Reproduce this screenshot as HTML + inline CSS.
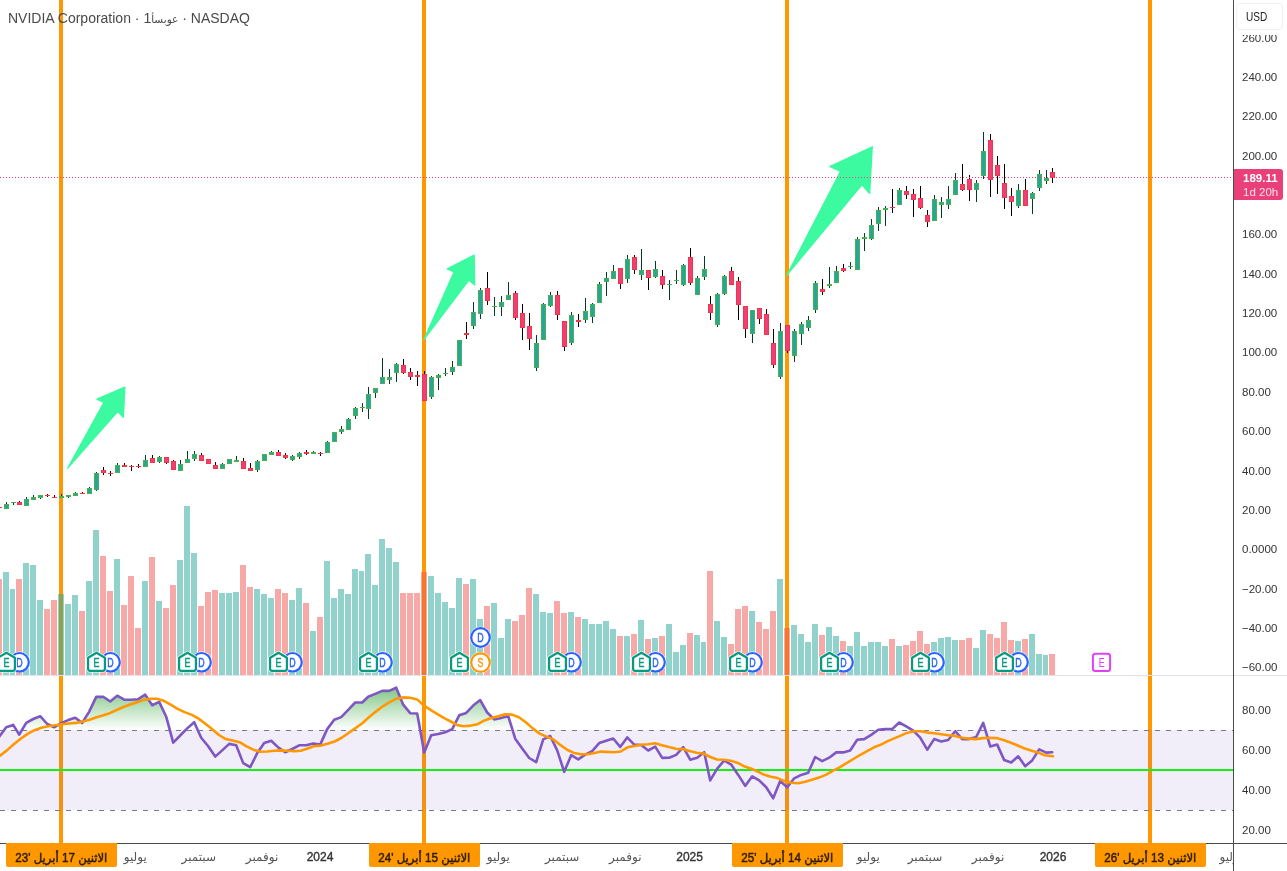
<!DOCTYPE html><html lang="ar"><head><meta charset="utf-8"><title>NVIDIA Corporation</title><style>
html,body{margin:0;padding:0;background:#fff}
body{width:1287px;height:871px;position:relative;overflow:hidden;font-family:"Liberation Sans","DejaVu Sans",sans-serif}
.ic{font-family:"Liberation Sans","DejaVu Sans",sans-serif}
.title{position:absolute;left:8px;top:9px;font-size:14px;line-height:18px;color:#4a4a4a;white-space:nowrap}
.pl{position:absolute;left:1242px;font-size:11.5px;line-height:14px;color:#333;white-space:nowrap}
.usdcover{position:absolute;left:1234px;top:0;width:53px;height:35px;background:#fff}
.usd{position:absolute;left:1236px;top:3px;width:45px;height:25px;border:1px solid #f0f0f0;border-radius:4px;font-size:12px;line-height:27px;color:#222}
.usd span{display:inline-block;transform:scaleX(.84);transform-origin:0 50%;margin-left:8.5px}
.plabel{position:absolute;left:1234px;top:169px;width:49px;height:31px;background:#e9407a;border-radius:0 3px 3px 0;color:#fff;font-size:11.5px}
.plabel div{position:absolute;left:9px;white-space:nowrap;line-height:14px}
.p1{top:2px;font-weight:bold}
.p2{top:16px;opacity:.85}
.tl{position:absolute;top:849px;width:100px;text-align:center;font-size:12px;line-height:16px;color:#555;white-space:nowrap;direction:rtl}
.tl.yr{color:#333;direction:ltr;-webkit-text-stroke:0.35px #333}
.tar{font-size:10.5px}
.dl span{display:inline-block;transform:scaleX(.972);transform-origin:50% 50%;position:relative;top:2.5px}
.tlclip{position:absolute;left:0;top:844px;width:1233px;height:27px;overflow:hidden}
.tlclip .tl{top:5px}
.dl{position:absolute;top:843px;width:111px;height:24px;background:#ff9800;border-radius:0 0 2px 2px;text-align:center;font-size:12px;line-height:24px;color:#2e1c00;-webkit-text-stroke:0.45px #2e1c00;white-space:nowrap;direction:rtl}
</style></head><body><svg width="1287" height="871" viewBox="0 0 1287 871" style="position:absolute;left:0;top:0"><rect x="59" y="0" width="4" height="843" fill="#ff9800"/>
<rect x="422" y="0" width="4" height="843" fill="#ff9800"/>
<rect x="785" y="0" width="4" height="843" fill="#ff9800"/>
<rect x="1148" y="0" width="4" height="843" fill="#ff9800"/>
<g shape-rendering="crispEdges"><rect x="-4" y="579" width="6" height="96" fill="rgba(239,83,80,0.5)"/><rect x="3" y="572" width="6" height="103" fill="rgba(38,166,154,0.5)"/><rect x="10" y="589" width="5" height="86" fill="rgba(38,166,154,0.5)"/><rect x="16" y="579" width="6" height="96" fill="rgba(239,83,80,0.5)"/><rect x="23" y="563" width="6" height="112" fill="rgba(38,166,154,0.5)"/><rect x="30" y="565" width="6" height="110" fill="rgba(38,166,154,0.5)"/><rect x="37" y="600" width="6" height="75" fill="rgba(38,166,154,0.5)"/><rect x="44" y="609" width="6" height="66" fill="rgba(239,83,80,0.5)"/><rect x="51" y="600" width="6" height="75" fill="rgba(239,83,80,0.5)"/><rect x="58" y="594" width="6" height="81" fill="rgba(38,166,154,0.5)"/><rect x="65" y="604" width="6" height="71" fill="rgba(38,166,154,0.5)"/><rect x="72" y="595" width="6" height="80" fill="rgba(38,166,154,0.5)"/><rect x="79" y="611" width="6" height="64" fill="rgba(239,83,80,0.5)"/><rect x="86" y="581" width="6" height="94" fill="rgba(38,166,154,0.5)"/><rect x="93" y="530" width="6" height="145" fill="rgba(38,166,154,0.5)"/><rect x="100" y="556" width="6" height="119" fill="rgba(239,83,80,0.5)"/><rect x="107" y="591" width="6" height="84" fill="rgba(239,83,80,0.5)"/><rect x="114" y="559" width="6" height="116" fill="rgba(38,166,154,0.5)"/><rect x="121" y="605" width="6" height="70" fill="rgba(239,83,80,0.5)"/><rect x="128" y="576" width="6" height="99" fill="rgba(239,83,80,0.5)"/><rect x="135" y="628" width="6" height="47" fill="rgba(239,83,80,0.5)"/><rect x="142" y="581" width="6" height="94" fill="rgba(38,166,154,0.5)"/><rect x="149" y="557" width="6" height="118" fill="rgba(239,83,80,0.5)"/><rect x="156" y="601" width="6" height="74" fill="rgba(38,166,154,0.5)"/><rect x="163" y="608" width="6" height="67" fill="rgba(239,83,80,0.5)"/><rect x="170" y="585" width="6" height="90" fill="rgba(239,83,80,0.5)"/><rect x="177" y="560" width="6" height="115" fill="rgba(38,166,154,0.5)"/><rect x="184" y="506" width="6" height="169" fill="rgba(38,166,154,0.5)"/><rect x="191" y="553" width="6" height="122" fill="rgba(38,166,154,0.5)"/><rect x="198" y="606" width="6" height="69" fill="rgba(239,83,80,0.5)"/><rect x="205" y="592" width="6" height="83" fill="rgba(239,83,80,0.5)"/><rect x="212" y="590" width="6" height="85" fill="rgba(239,83,80,0.5)"/><rect x="219" y="593" width="6" height="82" fill="rgba(38,166,154,0.5)"/><rect x="226" y="593" width="6" height="82" fill="rgba(38,166,154,0.5)"/><rect x="233" y="592" width="6" height="83" fill="rgba(38,166,154,0.5)"/><rect x="240" y="565" width="6" height="110" fill="rgba(239,83,80,0.5)"/><rect x="247" y="587" width="6" height="88" fill="rgba(239,83,80,0.5)"/><rect x="254" y="589" width="6" height="86" fill="rgba(38,166,154,0.5)"/><rect x="261" y="594" width="6" height="81" fill="rgba(38,166,154,0.5)"/><rect x="268" y="598" width="6" height="77" fill="rgba(38,166,154,0.5)"/><rect x="275" y="589" width="6" height="86" fill="rgba(239,83,80,0.5)"/><rect x="282" y="593" width="6" height="82" fill="rgba(239,83,80,0.5)"/><rect x="289" y="600" width="6" height="75" fill="rgba(38,166,154,0.5)"/><rect x="296" y="588" width="6" height="87" fill="rgba(38,166,154,0.5)"/><rect x="303" y="603" width="6" height="72" fill="rgba(239,83,80,0.5)"/><rect x="310" y="631" width="6" height="44" fill="rgba(38,166,154,0.5)"/><rect x="317" y="617" width="6" height="58" fill="rgba(239,83,80,0.5)"/><rect x="324" y="561" width="6" height="114" fill="rgba(38,166,154,0.5)"/><rect x="331" y="598" width="6" height="77" fill="rgba(38,166,154,0.5)"/><rect x="338" y="589" width="6" height="86" fill="rgba(38,166,154,0.5)"/><rect x="345" y="594" width="6" height="81" fill="rgba(38,166,154,0.5)"/><rect x="352" y="569" width="6" height="106" fill="rgba(38,166,154,0.5)"/><rect x="359" y="571" width="5" height="104" fill="rgba(38,166,154,0.5)"/><rect x="365" y="554" width="6" height="121" fill="rgba(38,166,154,0.5)"/><rect x="372" y="585" width="6" height="90" fill="rgba(38,166,154,0.5)"/><rect x="379" y="539" width="6" height="136" fill="rgba(38,166,154,0.5)"/><rect x="386" y="548" width="6" height="127" fill="rgba(38,166,154,0.5)"/><rect x="393" y="562" width="6" height="113" fill="rgba(38,166,154,0.5)"/><rect x="400" y="593" width="6" height="82" fill="rgba(239,83,80,0.5)"/><rect x="407" y="593" width="6" height="82" fill="rgba(239,83,80,0.5)"/><rect x="414" y="593" width="6" height="82" fill="rgba(239,83,80,0.5)"/><rect x="421" y="572" width="6" height="103" fill="rgba(239,83,80,0.5)"/><rect x="428" y="576" width="6" height="99" fill="rgba(38,166,154,0.5)"/><rect x="435" y="593" width="6" height="82" fill="rgba(38,166,154,0.5)"/><rect x="442" y="602" width="6" height="73" fill="rgba(38,166,154,0.5)"/><rect x="449" y="608" width="6" height="67" fill="rgba(38,166,154,0.5)"/><rect x="456" y="578" width="6" height="97" fill="rgba(38,166,154,0.5)"/><rect x="463" y="584" width="6" height="91" fill="rgba(239,83,80,0.5)"/><rect x="470" y="579" width="6" height="96" fill="rgba(38,166,154,0.5)"/><rect x="477" y="619" width="6" height="56" fill="rgba(38,166,154,0.5)"/><rect x="484" y="606" width="6" height="69" fill="rgba(239,83,80,0.5)"/><rect x="491" y="603" width="6" height="72" fill="rgba(38,166,154,0.5)"/><rect x="498" y="638" width="6" height="37" fill="rgba(38,166,154,0.5)"/><rect x="505" y="619" width="6" height="56" fill="rgba(38,166,154,0.5)"/><rect x="512" y="621" width="6" height="54" fill="rgba(239,83,80,0.5)"/><rect x="519" y="615" width="6" height="60" fill="rgba(239,83,80,0.5)"/><rect x="526" y="588" width="6" height="87" fill="rgba(239,83,80,0.5)"/><rect x="533" y="594" width="6" height="81" fill="rgba(38,166,154,0.5)"/><rect x="540" y="612" width="6" height="63" fill="rgba(38,166,154,0.5)"/><rect x="547" y="613" width="6" height="62" fill="rgba(38,166,154,0.5)"/><rect x="554" y="601" width="6" height="74" fill="rgba(239,83,80,0.5)"/><rect x="561" y="613" width="6" height="62" fill="rgba(239,83,80,0.5)"/><rect x="568" y="612" width="6" height="63" fill="rgba(38,166,154,0.5)"/><rect x="575" y="617" width="6" height="58" fill="rgba(239,83,80,0.5)"/><rect x="582" y="619" width="6" height="56" fill="rgba(38,166,154,0.5)"/><rect x="589" y="624" width="6" height="51" fill="rgba(38,166,154,0.5)"/><rect x="596" y="624" width="6" height="51" fill="rgba(38,166,154,0.5)"/><rect x="603" y="621" width="6" height="54" fill="rgba(38,166,154,0.5)"/><rect x="610" y="629" width="6" height="46" fill="rgba(38,166,154,0.5)"/><rect x="617" y="636" width="6" height="39" fill="rgba(239,83,80,0.5)"/><rect x="624" y="636" width="6" height="39" fill="rgba(38,166,154,0.5)"/><rect x="631" y="634" width="6" height="41" fill="rgba(239,83,80,0.5)"/><rect x="638" y="620" width="6" height="55" fill="rgba(38,166,154,0.5)"/><rect x="645" y="639" width="6" height="36" fill="rgba(239,83,80,0.5)"/><rect x="652" y="638" width="6" height="37" fill="rgba(38,166,154,0.5)"/><rect x="659" y="636" width="6" height="39" fill="rgba(239,83,80,0.5)"/><rect x="666" y="624" width="6" height="51" fill="rgba(38,166,154,0.5)"/><rect x="673" y="652" width="6" height="23" fill="rgba(38,166,154,0.5)"/><rect x="680" y="645" width="6" height="30" fill="rgba(38,166,154,0.5)"/><rect x="687" y="633" width="6" height="42" fill="rgba(239,83,80,0.5)"/><rect x="694" y="635" width="6" height="40" fill="rgba(38,166,154,0.5)"/><rect x="701" y="642" width="5" height="33" fill="rgba(38,166,154,0.5)"/><rect x="707" y="571" width="6" height="104" fill="rgba(239,83,80,0.5)"/><rect x="714" y="621" width="6" height="54" fill="rgba(38,166,154,0.5)"/><rect x="721" y="637" width="6" height="38" fill="rgba(38,166,154,0.5)"/><rect x="728" y="644" width="6" height="31" fill="rgba(239,83,80,0.5)"/><rect x="735" y="609" width="6" height="66" fill="rgba(239,83,80,0.5)"/><rect x="742" y="606" width="6" height="69" fill="rgba(239,83,80,0.5)"/><rect x="749" y="611" width="6" height="64" fill="rgba(38,166,154,0.5)"/><rect x="756" y="622" width="6" height="53" fill="rgba(239,83,80,0.5)"/><rect x="763" y="629" width="6" height="46" fill="rgba(239,83,80,0.5)"/><rect x="770" y="611" width="6" height="64" fill="rgba(239,83,80,0.5)"/><rect x="777" y="579" width="6" height="96" fill="rgba(38,166,154,0.5)"/><rect x="784" y="628" width="6" height="47" fill="rgba(239,83,80,0.5)"/><rect x="791" y="625" width="6" height="50" fill="rgba(38,166,154,0.5)"/><rect x="798" y="634" width="6" height="41" fill="rgba(38,166,154,0.5)"/><rect x="805" y="642" width="6" height="33" fill="rgba(38,166,154,0.5)"/><rect x="812" y="624" width="6" height="51" fill="rgba(38,166,154,0.5)"/><rect x="819" y="635" width="6" height="40" fill="rgba(239,83,80,0.5)"/><rect x="826" y="627" width="6" height="48" fill="rgba(38,166,154,0.5)"/><rect x="833" y="636" width="6" height="39" fill="rgba(38,166,154,0.5)"/><rect x="840" y="641" width="6" height="34" fill="rgba(239,83,80,0.5)"/><rect x="847" y="646" width="6" height="29" fill="rgba(38,166,154,0.5)"/><rect x="854" y="632" width="6" height="43" fill="rgba(38,166,154,0.5)"/><rect x="861" y="646" width="6" height="29" fill="rgba(38,166,154,0.5)"/><rect x="868" y="642" width="6" height="33" fill="rgba(38,166,154,0.5)"/><rect x="875" y="642" width="6" height="33" fill="rgba(38,166,154,0.5)"/><rect x="882" y="646" width="6" height="29" fill="rgba(38,166,154,0.5)"/><rect x="889" y="639" width="6" height="36" fill="rgba(239,83,80,0.5)"/><rect x="896" y="646" width="6" height="29" fill="rgba(38,166,154,0.5)"/><rect x="903" y="645" width="6" height="30" fill="rgba(239,83,80,0.5)"/><rect x="910" y="641" width="6" height="34" fill="rgba(239,83,80,0.5)"/><rect x="917" y="631" width="6" height="44" fill="rgba(239,83,80,0.5)"/><rect x="924" y="644" width="6" height="31" fill="rgba(239,83,80,0.5)"/><rect x="931" y="642" width="6" height="33" fill="rgba(38,166,154,0.5)"/><rect x="938" y="638" width="6" height="37" fill="rgba(38,166,154,0.5)"/><rect x="945" y="637" width="6" height="38" fill="rgba(38,166,154,0.5)"/><rect x="952" y="640" width="6" height="35" fill="rgba(38,166,154,0.5)"/><rect x="959" y="640" width="6" height="35" fill="rgba(239,83,80,0.5)"/><rect x="966" y="638" width="6" height="37" fill="rgba(239,83,80,0.5)"/><rect x="973" y="648" width="6" height="27" fill="rgba(38,166,154,0.5)"/><rect x="980" y="630" width="6" height="45" fill="rgba(38,166,154,0.5)"/><rect x="987" y="634" width="6" height="41" fill="rgba(239,83,80,0.5)"/><rect x="994" y="638" width="6" height="37" fill="rgba(239,83,80,0.5)"/><rect x="1001" y="622" width="6" height="53" fill="rgba(239,83,80,0.5)"/><rect x="1008" y="640" width="6" height="35" fill="rgba(239,83,80,0.5)"/><rect x="1015" y="641" width="6" height="34" fill="rgba(38,166,154,0.5)"/><rect x="1022" y="639" width="6" height="36" fill="rgba(239,83,80,0.5)"/><rect x="1029" y="634" width="6" height="41" fill="rgba(38,166,154,0.5)"/><rect x="1036" y="654" width="6" height="21" fill="rgba(38,166,154,0.5)"/><rect x="1043" y="655" width="5" height="20" fill="rgba(38,166,154,0.5)"/><rect x="1049" y="654" width="6" height="21" fill="rgba(239,83,80,0.5)"/></g>
<rect x="0" y="730" width="1233" height="80" fill="rgba(126,87,194,0.1)"/>
<defs><linearGradient id="gg" x1="0" y1="670" x2="0" y2="730" gradientUnits="userSpaceOnUse"><stop offset="0" stop-color="#4caf50" stop-opacity="1"/><stop offset="1" stop-color="#4caf50" stop-opacity="0"/></linearGradient></defs>
<path d="M-0.8,730 L-0.8,730.0 L6.2,727.3 L13.2,724.9 L19.2,730.0 L26.2,722.9 L33.2,719.0 L40.2,716.2 L47.2,724.0 L54.2,727.3 L61.2,723.2 L68.2,720.1 L75.2,717.7 L82.2,722.9 L89.2,711.6 L96.2,696.9 L103.2,696.7 L110.2,701.5 L117.2,695.7 L124.2,699.7 L131.2,699.7 L138.2,699.2 L145.2,694.6 L152.2,705.2 L159.2,701.9 L166.2,716.7 L173.2,730.0 L180.2,730.0 L187.2,728.4 L194.2,722.2 L201.2,730.0 L208.2,730.0 L215.2,730.0 L222.2,730.0 L229.2,730.0 L236.2,730.0 L243.2,730.0 L250.2,730.0 L257.2,730.0 L264.2,730.0 L271.2,730.0 L278.2,730.0 L285.2,730.0 L292.2,730.0 L299.2,730.0 L306.2,730.0 L313.2,730.0 L320.2,730.0 L327.2,729.1 L334.2,719.8 L341.2,717.1 L348.2,709.8 L355.2,702.5 L362.2,702.5 L368.2,696.7 L375.2,693.9 L382.2,690.9 L389.2,690.9 L396.2,687.7 L403.2,704.7 L410.2,713.2 L417.2,713.5 L424.2,730.0 L431.2,730.0 L438.2,730.0 L445.2,730.0 L452.2,729.1 L459.2,715.3 L466.2,712.9 L473.2,705.6 L480.2,700.1 L487.2,712.5 L494.2,719.4 L501.2,718.0 L508.2,716.0 L515.2,730.0 L522.2,730.0 L529.2,730.0 L536.2,730.0 L543.2,730.0 L550.2,730.0 L557.2,730.0 L564.2,730.0 L571.2,730.0 L578.2,730.0 L585.2,730.0 L592.2,730.0 L599.2,730.0 L606.2,730.0 L613.2,730.0 L620.2,730.0 L627.2,730.0 L634.2,730.0 L641.2,730.0 L648.2,730.0 L655.2,730.0 L662.2,730.0 L669.2,730.0 L676.2,730.0 L683.2,730.0 L690.2,730.0 L697.2,730.0 L704.2,730.0 L710.2,730.0 L717.2,730.0 L724.2,730.0 L731.2,730.0 L738.2,730.0 L745.2,730.0 L752.2,730.0 L759.2,730.0 L766.2,730.0 L773.2,730.0 L780.2,730.0 L787.2,730.0 L794.2,730.0 L801.2,730.0 L808.2,730.0 L815.2,730.0 L822.2,730.0 L829.2,730.0 L836.2,730.0 L843.2,730.0 L850.2,730.0 L857.2,730.0 L864.2,730.0 L871.2,730.0 L878.2,729.8 L885.2,729.1 L892.2,729.1 L899.2,722.5 L906.2,726.4 L913.2,730.0 L920.2,730.0 L927.2,730.0 L934.2,730.0 L941.2,730.0 L948.2,730.0 L955.2,730.0 L962.2,730.0 L969.2,730.0 L976.2,730.0 L983.2,722.9 L990.2,730.0 L997.2,730.0 L1004.2,730.0 L1011.2,730.0 L1018.2,730.0 L1025.2,730.0 L1032.2,730.0 L1039.2,730.0 L1046.2,730.0 L1052.2,730.0 L1052.2,730 Z" fill="url(#gg)"/>
<line x1="0" y1="730.5" x2="1233" y2="730.5" stroke="#787b86" stroke-width="1" stroke-dasharray="5 6" shape-rendering="crispEdges"/>
<line x1="0" y1="810.5" x2="1233" y2="810.5" stroke="#787b86" stroke-width="1" stroke-dasharray="5 6" shape-rendering="crispEdges"/>
<rect x="0" y="769" width="1233" height="2" fill="#14f014" shape-rendering="crispEdges"/>
<polyline fill="none" stroke="#7e57c2" stroke-width="2.6" stroke-linejoin="round" stroke-linecap="round" points="-0.8,736.6 6.2,727.3 13.2,724.9 19.2,734.6 26.2,722.9 33.2,719.0 40.2,716.2 47.2,724.0 54.2,727.3 61.2,723.2 68.2,720.1 75.2,717.7 82.2,722.9 89.2,711.6 96.2,696.9 103.2,696.7 110.2,701.5 117.2,695.7 124.2,699.7 131.2,699.7 138.2,699.2 145.2,694.6 152.2,705.2 159.2,701.9 166.2,716.7 173.2,742.6 180.2,735.5 187.2,728.4 194.2,722.2 201.2,737.7 208.2,746.3 215.2,756.6 222.2,750.4 229.2,743.9 236.2,745.2 243.2,763.1 250.2,767.2 257.2,753.2 264.2,743.1 271.2,740.8 278.2,747.4 285.2,752.2 292.2,749.0 299.2,745.3 306.2,745.3 313.2,743.5 320.2,744.6 327.2,729.1 334.2,719.8 341.2,717.1 348.2,709.8 355.2,702.5 362.2,702.5 368.2,696.7 375.2,693.9 382.2,690.9 389.2,690.9 396.2,687.7 403.2,704.7 410.2,713.2 417.2,713.5 424.2,752.5 431.2,735.3 438.2,733.9 445.2,732.2 452.2,729.1 459.2,715.3 466.2,712.9 473.2,705.6 480.2,700.1 487.2,712.5 494.2,719.4 501.2,718.0 508.2,716.0 515.2,738.7 522.2,748.4 529.2,758.0 536.2,762.1 543.2,739.4 550.2,736.0 557.2,750.4 564.2,771.8 571.2,755.2 578.2,759.4 585.2,754.6 592.2,751.1 599.2,743.1 606.2,740.8 613.2,738.5 620.2,746.9 627.2,737.4 634.2,744.6 641.2,745.0 648.2,750.5 655.2,746.6 662.2,757.9 669.2,757.7 676.2,754.9 683.2,747.1 690.2,759.7 697.2,757.7 704.2,752.2 710.2,780.4 717.2,768.7 724.2,760.5 731.2,764.6 738.2,774.9 745.2,785.9 752.2,776.3 759.2,780.4 766.2,787.3 773.2,798.3 780.2,781.1 787.2,787.3 794.2,778.3 801.2,774.9 808.2,772.8 815.2,757.0 822.2,761.1 829.2,757.7 836.2,752.4 843.2,752.4 850.2,750.5 857.2,739.7 864.2,739.1 871.2,734.9 878.2,729.8 885.2,729.1 892.2,729.1 899.2,722.5 906.2,726.4 913.2,730.6 920.2,737.7 927.2,749.7 934.2,739.1 941.2,741.4 948.2,740.0 955.2,731.2 962.2,739.1 969.2,739.1 976.2,737.0 983.2,722.9 990.2,746.4 997.2,744.6 1004.2,760.1 1011.2,762.5 1018.2,756.3 1025.2,766.2 1032.2,760.4 1039.2,749.4 1046.2,752.6 1052.2,752.2"/>
<polyline fill="none" stroke="#ff9800" stroke-width="2.6" stroke-linejoin="round" stroke-linecap="round" points="0.0,755.7 6.9,750.4 13.8,744.2 20.7,738.7 27.6,733.9 34.5,730.2 41.3,727.7 48.2,726.3 55.1,725.3 62.0,724.2 68.9,723.5 75.8,722.9 82.7,721.5 89.6,719.8 96.5,717.3 103.4,715.3 110.3,712.9 117.1,709.8 124.0,706.7 130.9,704.3 137.8,701.9 144.7,699.6 150.5,698.8 156.9,698.7 163.8,700.8 170.7,704.7 177.6,708.8 184.5,712.1 191.3,714.6 198.2,718.4 205.1,723.5 212.0,729.1 218.9,735.0 225.8,739.1 232.7,740.5 239.6,742.2 246.5,746.3 253.4,749.7 260.3,751.8 267.1,751.5 274.0,750.7 280.9,750.4 287.8,750.7 294.7,751.1 300.8,750.7 306.9,748.8 313.8,746.3 320.7,745.6 327.6,743.8 334.5,741.5 341.3,738.0 348.2,733.2 355.1,728.4 362.0,723.5 368.9,717.3 375.8,711.6 382.7,706.3 389.6,702.2 396.5,698.7 403.4,697.4 410.3,697.8 417.1,699.4 424.0,705.6 430.9,710.2 437.8,714.3 444.7,718.4 450.8,721.5 456.9,724.9 463.8,726.3 470.7,725.6 477.6,724.2 484.5,720.4 491.3,718.0 498.2,716.2 505.1,714.3 512.0,714.6 518.9,717.3 525.8,722.2 532.7,728.4 539.6,733.6 546.5,736.6 553.4,739.4 560.3,744.9 567.1,749.7 574.0,752.9 580.9,754.3 587.8,754.3 594.7,752.9 600.8,751.6 606.9,751.9 613.8,752.2 620.7,751.5 627.6,747.3 634.5,746.0 641.3,744.8 648.2,744.3 655.1,743.2 662.0,745.3 668.9,747.1 675.8,748.7 682.7,749.1 689.6,751.1 696.5,752.8 703.4,753.5 710.3,757.0 717.1,759.5 724.0,759.7 730.9,760.8 737.8,762.9 744.7,766.6 750.8,768.4 756.9,771.2 763.8,774.6 770.7,776.7 777.6,778.1 784.5,781.1 791.3,782.7 798.2,783.2 805.1,781.8 812.0,779.7 818.9,777.6 825.8,774.9 832.7,770.8 839.6,767.3 846.5,763.2 853.4,759.0 860.3,754.9 867.1,751.1 874.0,747.3 880.9,744.6 887.8,741.1 894.7,738.1 900.8,735.6 906.9,732.9 913.8,731.2 920.7,731.2 927.6,732.6 934.5,733.3 941.3,734.2 948.2,735.3 955.1,735.9 962.0,737.7 968.9,738.6 975.8,739.1 982.7,738.1 989.6,737.7 996.5,738.1 1003.4,740.0 1010.3,742.5 1017.1,745.3 1024.0,748.3 1030.9,750.5 1037.8,752.4 1044.7,755.3 1053.0,756.3"/>
<g shape-rendering="crispEdges"><rect x="-1" y="507" width="1" height="1" fill="#000000"/><rect x="-3" y="507" width="5" height="1" fill="#f23645"/><rect x="6" y="502" width="1" height="7" fill="#07382f"/><rect x="4" y="504" width="5" height="5" fill="#4caf50"/><rect x="5" y="505" width="3" height="3" fill="#26a69a"/><rect x="13" y="502" width="1" height="3" fill="#07382f"/><rect x="11" y="502" width="5" height="1" fill="#4caf50"/><rect x="19" y="501" width="1" height="4" fill="#000000"/><rect x="17" y="502" width="5" height="3" fill="#f23645"/><rect x="18" y="503" width="3" height="1" fill="#ec407a"/><rect x="26" y="497" width="1" height="9" fill="#07382f"/><rect x="24" y="499" width="5" height="7" fill="#4caf50"/><rect x="25" y="500" width="3" height="5" fill="#26a69a"/><rect x="33" y="495" width="1" height="5" fill="#07382f"/><rect x="31" y="497" width="5" height="3" fill="#4caf50"/><rect x="32" y="498" width="3" height="1" fill="#26a69a"/><rect x="40" y="495" width="1" height="4" fill="#07382f"/><rect x="38" y="495" width="5" height="3" fill="#4caf50"/><rect x="39" y="496" width="3" height="1" fill="#26a69a"/><rect x="47" y="494" width="1" height="3" fill="#000000"/><rect x="45" y="495" width="5" height="1" fill="#f23645"/><rect x="54" y="495" width="1" height="3" fill="#000000"/><rect x="52" y="497" width="5" height="1" fill="#f23645"/><rect x="61" y="494" width="1" height="4" fill="#07382f"/><rect x="59" y="496" width="5" height="2" fill="#4caf50"/><rect x="68" y="495" width="1" height="3" fill="#07382f"/><rect x="66" y="495" width="5" height="2" fill="#4caf50"/><rect x="75" y="492" width="1" height="4" fill="#07382f"/><rect x="73" y="493" width="5" height="3" fill="#4caf50"/><rect x="74" y="494" width="3" height="1" fill="#26a69a"/><rect x="82" y="492" width="1" height="2" fill="#000000"/><rect x="80" y="493" width="5" height="1" fill="#f23645"/><rect x="89" y="487" width="1" height="7" fill="#07382f"/><rect x="87" y="488" width="5" height="6" fill="#4caf50"/><rect x="88" y="489" width="3" height="4" fill="#26a69a"/><rect x="96" y="472" width="1" height="19" fill="#07382f"/><rect x="94" y="473" width="5" height="17" fill="#4caf50"/><rect x="95" y="474" width="3" height="15" fill="#26a69a"/><rect x="103" y="467" width="1" height="8" fill="#000000"/><rect x="101" y="470" width="5" height="3" fill="#f23645"/><rect x="102" y="471" width="3" height="1" fill="#ec407a"/><rect x="110" y="471" width="1" height="5" fill="#000000"/><rect x="108" y="473" width="5" height="1" fill="#f23645"/><rect x="117" y="463" width="1" height="10" fill="#07382f"/><rect x="115" y="465" width="5" height="8" fill="#4caf50"/><rect x="116" y="466" width="3" height="6" fill="#26a69a"/><rect x="124" y="463" width="1" height="4" fill="#000000"/><rect x="122" y="465" width="5" height="2" fill="#f23645"/><rect x="131" y="465" width="1" height="6" fill="#000000"/><rect x="129" y="466" width="5" height="1" fill="#f23645"/><rect x="138" y="464" width="1" height="4" fill="#000000"/><rect x="136" y="466" width="5" height="1" fill="#f23645"/><rect x="145" y="455" width="1" height="12" fill="#07382f"/><rect x="143" y="460" width="5" height="7" fill="#4caf50"/><rect x="144" y="461" width="3" height="5" fill="#26a69a"/><rect x="152" y="455" width="1" height="8" fill="#000000"/><rect x="150" y="458" width="5" height="5" fill="#f23645"/><rect x="151" y="459" width="3" height="3" fill="#ec407a"/><rect x="159" y="456" width="1" height="7" fill="#07382f"/><rect x="157" y="457" width="5" height="5" fill="#4caf50"/><rect x="158" y="458" width="3" height="3" fill="#26a69a"/><rect x="166" y="457" width="1" height="7" fill="#000000"/><rect x="164" y="457" width="5" height="6" fill="#f23645"/><rect x="165" y="458" width="3" height="4" fill="#ec407a"/><rect x="173" y="460" width="1" height="10" fill="#000000"/><rect x="171" y="461" width="5" height="9" fill="#f23645"/><rect x="172" y="462" width="3" height="7" fill="#ec407a"/><rect x="180" y="460" width="1" height="11" fill="#07382f"/><rect x="178" y="464" width="5" height="7" fill="#4caf50"/><rect x="179" y="465" width="3" height="5" fill="#26a69a"/><rect x="187" y="451" width="1" height="12" fill="#07382f"/><rect x="185" y="459" width="5" height="4" fill="#4caf50"/><rect x="186" y="460" width="3" height="2" fill="#26a69a"/><rect x="194" y="451" width="1" height="10" fill="#07382f"/><rect x="192" y="454" width="5" height="5" fill="#4caf50"/><rect x="193" y="455" width="3" height="3" fill="#26a69a"/><rect x="201" y="453" width="1" height="8" fill="#000000"/><rect x="199" y="455" width="5" height="6" fill="#f23645"/><rect x="200" y="456" width="3" height="4" fill="#ec407a"/><rect x="208" y="459" width="1" height="5" fill="#000000"/><rect x="206" y="459" width="5" height="5" fill="#f23645"/><rect x="207" y="460" width="3" height="3" fill="#ec407a"/><rect x="215" y="462" width="1" height="7" fill="#000000"/><rect x="213" y="465" width="5" height="4" fill="#f23645"/><rect x="214" y="466" width="3" height="2" fill="#ec407a"/><rect x="222" y="463" width="1" height="6" fill="#07382f"/><rect x="220" y="464" width="5" height="5" fill="#4caf50"/><rect x="221" y="465" width="3" height="3" fill="#26a69a"/><rect x="229" y="459" width="1" height="5" fill="#07382f"/><rect x="227" y="459" width="5" height="5" fill="#4caf50"/><rect x="228" y="460" width="3" height="3" fill="#26a69a"/><rect x="236" y="456" width="1" height="6" fill="#07382f"/><rect x="234" y="460" width="5" height="2" fill="#4caf50"/><rect x="243" y="458" width="1" height="11" fill="#000000"/><rect x="241" y="461" width="5" height="8" fill="#f23645"/><rect x="242" y="462" width="3" height="6" fill="#ec407a"/><rect x="250" y="463" width="1" height="8" fill="#000000"/><rect x="248" y="468" width="5" height="3" fill="#f23645"/><rect x="249" y="469" width="3" height="1" fill="#ec407a"/><rect x="257" y="460" width="1" height="12" fill="#07382f"/><rect x="255" y="461" width="5" height="9" fill="#4caf50"/><rect x="256" y="462" width="3" height="7" fill="#26a69a"/><rect x="264" y="454" width="1" height="7" fill="#07382f"/><rect x="262" y="454" width="5" height="7" fill="#4caf50"/><rect x="263" y="455" width="3" height="5" fill="#26a69a"/><rect x="271" y="451" width="1" height="4" fill="#07382f"/><rect x="269" y="452" width="5" height="3" fill="#4caf50"/><rect x="270" y="453" width="3" height="1" fill="#26a69a"/><rect x="278" y="450" width="1" height="6" fill="#000000"/><rect x="276" y="452" width="5" height="4" fill="#f23645"/><rect x="277" y="453" width="3" height="2" fill="#ec407a"/><rect x="285" y="453" width="1" height="6" fill="#000000"/><rect x="283" y="455" width="5" height="3" fill="#f23645"/><rect x="284" y="456" width="3" height="1" fill="#ec407a"/><rect x="292" y="455" width="1" height="6" fill="#07382f"/><rect x="290" y="456" width="5" height="4" fill="#4caf50"/><rect x="291" y="457" width="3" height="2" fill="#26a69a"/><rect x="299" y="452" width="1" height="7" fill="#07382f"/><rect x="297" y="453" width="5" height="4" fill="#4caf50"/><rect x="298" y="454" width="3" height="2" fill="#26a69a"/><rect x="306" y="450" width="1" height="5" fill="#000000"/><rect x="304" y="452" width="5" height="2" fill="#f23645"/><rect x="313" y="451" width="1" height="3" fill="#07382f"/><rect x="311" y="452" width="5" height="2" fill="#4caf50"/><rect x="320" y="452" width="1" height="4" fill="#000000"/><rect x="318" y="453" width="5" height="1" fill="#f23645"/><rect x="327" y="441" width="1" height="12" fill="#07382f"/><rect x="325" y="442" width="5" height="11" fill="#4caf50"/><rect x="326" y="443" width="3" height="9" fill="#26a69a"/><rect x="334" y="432" width="1" height="10" fill="#07382f"/><rect x="332" y="432" width="5" height="10" fill="#4caf50"/><rect x="333" y="433" width="3" height="8" fill="#26a69a"/><rect x="341" y="426" width="1" height="8" fill="#07382f"/><rect x="339" y="429" width="5" height="3" fill="#4caf50"/><rect x="340" y="430" width="3" height="1" fill="#26a69a"/><rect x="348" y="418" width="1" height="12" fill="#07382f"/><rect x="346" y="419" width="5" height="11" fill="#4caf50"/><rect x="347" y="420" width="3" height="9" fill="#26a69a"/><rect x="355" y="407" width="1" height="12" fill="#07382f"/><rect x="353" y="408" width="5" height="8" fill="#4caf50"/><rect x="354" y="409" width="3" height="6" fill="#26a69a"/><rect x="362" y="403" width="1" height="9" fill="#07382f"/><rect x="360" y="407" width="5" height="1" fill="#4caf50"/><rect x="368" y="387" width="1" height="32" fill="#07382f"/><rect x="366" y="394" width="5" height="15" fill="#4caf50"/><rect x="367" y="395" width="3" height="13" fill="#26a69a"/><rect x="375" y="388" width="1" height="10" fill="#07382f"/><rect x="373" y="388" width="5" height="5" fill="#4caf50"/><rect x="374" y="389" width="3" height="3" fill="#26a69a"/><rect x="382" y="358" width="1" height="26" fill="#07382f"/><rect x="380" y="377" width="5" height="7" fill="#4caf50"/><rect x="381" y="378" width="3" height="5" fill="#26a69a"/><rect x="389" y="369" width="1" height="15" fill="#07382f"/><rect x="387" y="377" width="5" height="3" fill="#4caf50"/><rect x="388" y="378" width="3" height="1" fill="#26a69a"/><rect x="396" y="363" width="1" height="19" fill="#07382f"/><rect x="394" y="364" width="5" height="9" fill="#4caf50"/><rect x="395" y="365" width="3" height="7" fill="#26a69a"/><rect x="403" y="359" width="1" height="15" fill="#000000"/><rect x="401" y="365" width="5" height="8" fill="#f23645"/><rect x="402" y="366" width="3" height="6" fill="#ec407a"/><rect x="410" y="368" width="1" height="12" fill="#000000"/><rect x="408" y="372" width="5" height="5" fill="#f23645"/><rect x="409" y="373" width="3" height="3" fill="#ec407a"/><rect x="417" y="371" width="1" height="15" fill="#000000"/><rect x="415" y="375" width="5" height="2" fill="#f23645"/><rect x="424" y="371" width="1" height="30" fill="#000000"/><rect x="422" y="374" width="5" height="27" fill="#f23645"/><rect x="423" y="375" width="3" height="25" fill="#ec407a"/><rect x="431" y="376" width="1" height="23" fill="#07382f"/><rect x="429" y="377" width="5" height="20" fill="#4caf50"/><rect x="430" y="378" width="3" height="18" fill="#26a69a"/><rect x="438" y="374" width="1" height="16" fill="#07382f"/><rect x="436" y="375" width="5" height="3" fill="#4caf50"/><rect x="437" y="376" width="3" height="1" fill="#26a69a"/><rect x="445" y="368" width="1" height="8" fill="#07382f"/><rect x="443" y="373" width="5" height="1" fill="#4caf50"/><rect x="452" y="361" width="1" height="14" fill="#07382f"/><rect x="450" y="367" width="5" height="5" fill="#4caf50"/><rect x="451" y="368" width="3" height="3" fill="#26a69a"/><rect x="459" y="340" width="1" height="26" fill="#07382f"/><rect x="457" y="340" width="5" height="26" fill="#4caf50"/><rect x="458" y="341" width="3" height="24" fill="#26a69a"/><rect x="466" y="322" width="1" height="17" fill="#000000"/><rect x="464" y="333" width="5" height="2" fill="#f23645"/><rect x="473" y="302" width="1" height="27" fill="#07382f"/><rect x="471" y="312" width="5" height="14" fill="#4caf50"/><rect x="472" y="313" width="3" height="12" fill="#26a69a"/><rect x="480" y="288" width="1" height="31" fill="#07382f"/><rect x="478" y="290" width="5" height="24" fill="#4caf50"/><rect x="479" y="291" width="3" height="22" fill="#26a69a"/><rect x="487" y="272" width="1" height="33" fill="#000000"/><rect x="485" y="288" width="5" height="13" fill="#f23645"/><rect x="486" y="289" width="3" height="11" fill="#ec407a"/><rect x="494" y="297" width="1" height="19" fill="#07382f"/><rect x="492" y="306" width="5" height="1" fill="#4caf50"/><rect x="501" y="296" width="1" height="20" fill="#07382f"/><rect x="499" y="302" width="5" height="5" fill="#4caf50"/><rect x="500" y="303" width="3" height="3" fill="#26a69a"/><rect x="508" y="282" width="1" height="18" fill="#07382f"/><rect x="506" y="295" width="5" height="5" fill="#4caf50"/><rect x="507" y="296" width="3" height="3" fill="#26a69a"/><rect x="515" y="291" width="1" height="29" fill="#000000"/><rect x="513" y="293" width="5" height="25" fill="#f23645"/><rect x="514" y="294" width="3" height="23" fill="#ec407a"/><rect x="522" y="304" width="1" height="36" fill="#000000"/><rect x="520" y="313" width="5" height="15" fill="#f23645"/><rect x="521" y="314" width="3" height="13" fill="#ec407a"/><rect x="529" y="313" width="1" height="37" fill="#000000"/><rect x="527" y="326" width="5" height="13" fill="#f23645"/><rect x="528" y="327" width="3" height="11" fill="#ec407a"/><rect x="536" y="335" width="1" height="36" fill="#07382f"/><rect x="534" y="343" width="5" height="25" fill="#4caf50"/><rect x="535" y="344" width="3" height="23" fill="#26a69a"/><rect x="543" y="303" width="1" height="37" fill="#07382f"/><rect x="541" y="304" width="5" height="36" fill="#4caf50"/><rect x="542" y="305" width="3" height="34" fill="#26a69a"/><rect x="550" y="292" width="1" height="15" fill="#07382f"/><rect x="548" y="295" width="5" height="11" fill="#4caf50"/><rect x="549" y="296" width="3" height="9" fill="#26a69a"/><rect x="557" y="291" width="1" height="29" fill="#000000"/><rect x="555" y="295" width="5" height="20" fill="#f23645"/><rect x="556" y="296" width="3" height="18" fill="#ec407a"/><rect x="564" y="321" width="1" height="30" fill="#000000"/><rect x="562" y="321" width="5" height="26" fill="#f23645"/><rect x="563" y="322" width="3" height="24" fill="#ec407a"/><rect x="571" y="312" width="1" height="33" fill="#07382f"/><rect x="569" y="315" width="5" height="28" fill="#4caf50"/><rect x="570" y="316" width="3" height="26" fill="#26a69a"/><rect x="578" y="314" width="1" height="13" fill="#000000"/><rect x="576" y="320" width="5" height="2" fill="#f23645"/><rect x="585" y="298" width="1" height="25" fill="#07382f"/><rect x="583" y="311" width="5" height="9" fill="#4caf50"/><rect x="584" y="312" width="3" height="7" fill="#26a69a"/><rect x="592" y="303" width="1" height="20" fill="#07382f"/><rect x="590" y="304" width="5" height="13" fill="#4caf50"/><rect x="591" y="305" width="3" height="11" fill="#26a69a"/><rect x="599" y="282" width="1" height="21" fill="#07382f"/><rect x="597" y="284" width="5" height="19" fill="#4caf50"/><rect x="598" y="285" width="3" height="17" fill="#26a69a"/><rect x="606" y="272" width="1" height="24" fill="#07382f"/><rect x="604" y="278" width="5" height="4" fill="#4caf50"/><rect x="605" y="279" width="3" height="2" fill="#26a69a"/><rect x="613" y="265" width="1" height="14" fill="#07382f"/><rect x="611" y="271" width="5" height="8" fill="#4caf50"/><rect x="612" y="272" width="3" height="6" fill="#26a69a"/><rect x="620" y="268" width="1" height="21" fill="#000000"/><rect x="618" y="268" width="5" height="16" fill="#f23645"/><rect x="619" y="269" width="3" height="14" fill="#ec407a"/><rect x="627" y="255" width="1" height="28" fill="#07382f"/><rect x="625" y="259" width="5" height="20" fill="#4caf50"/><rect x="626" y="260" width="3" height="18" fill="#26a69a"/><rect x="634" y="255" width="1" height="19" fill="#000000"/><rect x="632" y="257" width="5" height="13" fill="#f23645"/><rect x="633" y="258" width="3" height="11" fill="#ec407a"/><rect x="641" y="249" width="1" height="31" fill="#07382f"/><rect x="639" y="270" width="5" height="5" fill="#4caf50"/><rect x="640" y="271" width="3" height="3" fill="#26a69a"/><rect x="648" y="270" width="1" height="20" fill="#000000"/><rect x="646" y="270" width="5" height="8" fill="#f23645"/><rect x="647" y="271" width="3" height="6" fill="#ec407a"/><rect x="655" y="261" width="1" height="17" fill="#07382f"/><rect x="653" y="269" width="5" height="8" fill="#4caf50"/><rect x="654" y="270" width="3" height="6" fill="#26a69a"/><rect x="662" y="270" width="1" height="19" fill="#000000"/><rect x="660" y="276" width="5" height="9" fill="#f23645"/><rect x="661" y="277" width="3" height="7" fill="#ec407a"/><rect x="669" y="280" width="1" height="20" fill="#07382f"/><rect x="667" y="284" width="5" height="1" fill="#4caf50"/><rect x="676" y="270" width="1" height="14" fill="#07382f"/><rect x="674" y="280" width="5" height="1" fill="#4caf50"/><rect x="683" y="264" width="1" height="22" fill="#07382f"/><rect x="681" y="265" width="5" height="20" fill="#4caf50"/><rect x="682" y="266" width="3" height="18" fill="#26a69a"/><rect x="690" y="248" width="1" height="37" fill="#000000"/><rect x="688" y="257" width="5" height="26" fill="#f23645"/><rect x="689" y="258" width="3" height="24" fill="#ec407a"/><rect x="697" y="276" width="1" height="19" fill="#07382f"/><rect x="695" y="278" width="5" height="17" fill="#4caf50"/><rect x="696" y="279" width="3" height="15" fill="#26a69a"/><rect x="704" y="256" width="1" height="24" fill="#07382f"/><rect x="702" y="269" width="5" height="8" fill="#4caf50"/><rect x="703" y="270" width="3" height="6" fill="#26a69a"/><rect x="710" y="296" width="1" height="24" fill="#000000"/><rect x="708" y="304" width="5" height="9" fill="#f23645"/><rect x="709" y="305" width="3" height="7" fill="#ec407a"/><rect x="717" y="293" width="1" height="34" fill="#07382f"/><rect x="715" y="294" width="5" height="31" fill="#4caf50"/><rect x="716" y="295" width="3" height="29" fill="#26a69a"/><rect x="724" y="275" width="1" height="20" fill="#07382f"/><rect x="722" y="276" width="5" height="18" fill="#4caf50"/><rect x="723" y="277" width="3" height="16" fill="#26a69a"/><rect x="731" y="267" width="1" height="18" fill="#000000"/><rect x="729" y="271" width="5" height="14" fill="#f23645"/><rect x="730" y="272" width="3" height="12" fill="#ec407a"/><rect x="738" y="277" width="1" height="43" fill="#000000"/><rect x="736" y="281" width="5" height="24" fill="#f23645"/><rect x="737" y="282" width="3" height="22" fill="#ec407a"/><rect x="745" y="306" width="1" height="32" fill="#000000"/><rect x="743" y="306" width="5" height="23" fill="#f23645"/><rect x="744" y="307" width="3" height="21" fill="#ec407a"/><rect x="752" y="310" width="1" height="33" fill="#07382f"/><rect x="750" y="310" width="5" height="24" fill="#4caf50"/><rect x="751" y="311" width="3" height="22" fill="#26a69a"/><rect x="759" y="308" width="1" height="16" fill="#000000"/><rect x="757" y="308" width="5" height="11" fill="#f23645"/><rect x="758" y="309" width="3" height="9" fill="#ec407a"/><rect x="766" y="309" width="1" height="26" fill="#000000"/><rect x="764" y="314" width="5" height="21" fill="#f23645"/><rect x="765" y="315" width="3" height="19" fill="#ec407a"/><rect x="773" y="329" width="1" height="39" fill="#000000"/><rect x="771" y="343" width="5" height="22" fill="#f23645"/><rect x="772" y="344" width="3" height="20" fill="#ec407a"/><rect x="780" y="323" width="1" height="56" fill="#07382f"/><rect x="778" y="331" width="5" height="46" fill="#4caf50"/><rect x="779" y="332" width="3" height="44" fill="#26a69a"/><rect x="787" y="325" width="1" height="28" fill="#000000"/><rect x="785" y="325" width="5" height="26" fill="#f23645"/><rect x="786" y="326" width="3" height="24" fill="#ec407a"/><rect x="794" y="329" width="1" height="33" fill="#07382f"/><rect x="792" y="331" width="5" height="25" fill="#4caf50"/><rect x="793" y="332" width="3" height="23" fill="#26a69a"/><rect x="801" y="322" width="1" height="23" fill="#07382f"/><rect x="799" y="324" width="5" height="10" fill="#4caf50"/><rect x="800" y="325" width="3" height="8" fill="#26a69a"/><rect x="808" y="316" width="1" height="15" fill="#07382f"/><rect x="806" y="320" width="5" height="8" fill="#4caf50"/><rect x="807" y="321" width="3" height="6" fill="#26a69a"/><rect x="815" y="281" width="1" height="32" fill="#07382f"/><rect x="813" y="283" width="5" height="27" fill="#4caf50"/><rect x="814" y="284" width="3" height="25" fill="#26a69a"/><rect x="822" y="279" width="1" height="16" fill="#000000"/><rect x="820" y="289" width="5" height="3" fill="#f23645"/><rect x="821" y="290" width="3" height="1" fill="#ec407a"/><rect x="829" y="267" width="1" height="21" fill="#07382f"/><rect x="827" y="284" width="5" height="2" fill="#4caf50"/><rect x="836" y="266" width="1" height="17" fill="#07382f"/><rect x="834" y="271" width="5" height="12" fill="#4caf50"/><rect x="835" y="272" width="3" height="10" fill="#26a69a"/><rect x="843" y="264" width="1" height="8" fill="#000000"/><rect x="841" y="268" width="5" height="3" fill="#f23645"/><rect x="842" y="269" width="3" height="1" fill="#ec407a"/><rect x="850" y="262" width="1" height="7" fill="#07382f"/><rect x="848" y="266" width="5" height="1" fill="#4caf50"/><rect x="857" y="237" width="1" height="33" fill="#07382f"/><rect x="855" y="239" width="5" height="31" fill="#4caf50"/><rect x="856" y="240" width="3" height="29" fill="#26a69a"/><rect x="864" y="233" width="1" height="18" fill="#07382f"/><rect x="862" y="237" width="5" height="2" fill="#4caf50"/><rect x="871" y="219" width="1" height="21" fill="#07382f"/><rect x="869" y="225" width="5" height="14" fill="#4caf50"/><rect x="870" y="226" width="3" height="12" fill="#26a69a"/><rect x="878" y="207" width="1" height="24" fill="#07382f"/><rect x="876" y="210" width="5" height="14" fill="#4caf50"/><rect x="877" y="211" width="3" height="12" fill="#26a69a"/><rect x="885" y="206" width="1" height="20" fill="#07382f"/><rect x="883" y="208" width="5" height="2" fill="#4caf50"/><rect x="892" y="189" width="1" height="24" fill="#000000"/><rect x="890" y="207" width="5" height="1" fill="#f23645"/><rect x="899" y="188" width="1" height="17" fill="#07382f"/><rect x="897" y="190" width="5" height="15" fill="#4caf50"/><rect x="898" y="191" width="3" height="13" fill="#26a69a"/><rect x="906" y="186" width="1" height="13" fill="#000000"/><rect x="904" y="191" width="5" height="4" fill="#f23645"/><rect x="905" y="192" width="3" height="2" fill="#ec407a"/><rect x="913" y="189" width="1" height="28" fill="#000000"/><rect x="911" y="194" width="5" height="6" fill="#f23645"/><rect x="912" y="195" width="3" height="4" fill="#ec407a"/><rect x="920" y="186" width="1" height="23" fill="#000000"/><rect x="918" y="198" width="5" height="10" fill="#f23645"/><rect x="919" y="199" width="3" height="8" fill="#ec407a"/><rect x="927" y="210" width="1" height="17" fill="#000000"/><rect x="925" y="215" width="5" height="7" fill="#f23645"/><rect x="926" y="216" width="3" height="5" fill="#ec407a"/><rect x="934" y="195" width="1" height="26" fill="#07382f"/><rect x="932" y="199" width="5" height="22" fill="#4caf50"/><rect x="933" y="200" width="3" height="20" fill="#26a69a"/><rect x="941" y="197" width="1" height="21" fill="#07382f"/><rect x="939" y="202" width="5" height="3" fill="#4caf50"/><rect x="940" y="203" width="3" height="1" fill="#26a69a"/><rect x="948" y="186" width="1" height="23" fill="#07382f"/><rect x="946" y="199" width="5" height="6" fill="#4caf50"/><rect x="947" y="200" width="3" height="4" fill="#26a69a"/><rect x="955" y="173" width="1" height="22" fill="#07382f"/><rect x="953" y="180" width="5" height="15" fill="#4caf50"/><rect x="954" y="181" width="3" height="13" fill="#26a69a"/><rect x="962" y="164" width="1" height="27" fill="#000000"/><rect x="960" y="184" width="5" height="6" fill="#f23645"/><rect x="961" y="185" width="3" height="4" fill="#ec407a"/><rect x="969" y="175" width="1" height="26" fill="#000000"/><rect x="967" y="179" width="5" height="11" fill="#f23645"/><rect x="968" y="180" width="3" height="9" fill="#ec407a"/><rect x="976" y="180" width="1" height="22" fill="#07382f"/><rect x="974" y="183" width="5" height="7" fill="#4caf50"/><rect x="975" y="184" width="3" height="5" fill="#26a69a"/><rect x="983" y="132" width="1" height="47" fill="#07382f"/><rect x="981" y="151" width="5" height="25" fill="#4caf50"/><rect x="982" y="152" width="3" height="23" fill="#26a69a"/><rect x="990" y="134" width="1" height="63" fill="#000000"/><rect x="988" y="140" width="5" height="40" fill="#f23645"/><rect x="989" y="141" width="3" height="38" fill="#ec407a"/><rect x="997" y="156" width="1" height="38" fill="#000000"/><rect x="995" y="165" width="5" height="11" fill="#f23645"/><rect x="996" y="166" width="3" height="9" fill="#ec407a"/><rect x="1004" y="164" width="1" height="45" fill="#000000"/><rect x="1002" y="183" width="5" height="15" fill="#f23645"/><rect x="1003" y="184" width="3" height="13" fill="#ec407a"/><rect x="1011" y="188" width="1" height="28" fill="#000000"/><rect x="1009" y="196" width="5" height="6" fill="#f23645"/><rect x="1010" y="197" width="3" height="4" fill="#ec407a"/><rect x="1018" y="184" width="1" height="24" fill="#07382f"/><rect x="1016" y="190" width="5" height="16" fill="#4caf50"/><rect x="1017" y="191" width="3" height="14" fill="#26a69a"/><rect x="1025" y="179" width="1" height="27" fill="#000000"/><rect x="1023" y="190" width="5" height="16" fill="#f23645"/><rect x="1024" y="191" width="3" height="14" fill="#ec407a"/><rect x="1032" y="192" width="1" height="22" fill="#07382f"/><rect x="1030" y="193" width="5" height="6" fill="#4caf50"/><rect x="1031" y="194" width="3" height="4" fill="#26a69a"/><rect x="1039" y="170" width="1" height="21" fill="#07382f"/><rect x="1037" y="174" width="5" height="14" fill="#4caf50"/><rect x="1038" y="175" width="3" height="12" fill="#26a69a"/><rect x="1046" y="170" width="1" height="14" fill="#07382f"/><rect x="1044" y="178" width="5" height="3" fill="#4caf50"/><rect x="1045" y="179" width="3" height="1" fill="#26a69a"/><rect x="1052" y="168" width="1" height="15" fill="#000000"/><rect x="1050" y="172" width="5" height="6" fill="#f23645"/><rect x="1051" y="173" width="3" height="4" fill="#ec407a"/></g>
<polygon fill="#3bfaa0" stroke="#3bfaa0" stroke-width="1.2" stroke-linejoin="round" points="67.7,468.1 103.8,402.5 96.9,399.1 124.9,387.0 123.4,417.4 117.7,411.7"/>
<polygon fill="#3bfaa0" stroke="#3bfaa0" stroke-width="1.2" stroke-linejoin="round" points="423.7,340.0 454.0,272.0 447.2,268.9 474.2,255.1 474.7,284.9 468.7,280.3"/>
<polygon fill="#3bfaa0" stroke="#3bfaa0" stroke-width="1.2" stroke-linejoin="round" points="786.7,275.3 840.4,171.5 829.7,166.5 872.3,146.7 869.7,193.5 861.9,184.9"/>
<line x1="0" y1="177.5" x2="1233" y2="177.5" stroke="#e9407a" stroke-width="1" stroke-dasharray="1 2" shape-rendering="crispEdges"/>
<circle cx="19.5" cy="662.3" r="10.7" fill="#fff"/><circle cx="19.5" cy="662.3" r="9.3" fill="#fff" stroke="#2962ff" stroke-width="2.2"/><text transform="translate(19.5,666.5999999999999) scale(0.74,1)" text-anchor="middle" font-size="12" fill="#2962ff" stroke="#2962ff" stroke-width="0.45" class="ic">D</text><path d="M6.5,652.6999999999999 L14.9,657.6999999999999 L14.9,668.8 Q14.9,670.8 12.9,670.8 L0.09999999999999964,670.8 Q-1.9000000000000004,670.8 -1.9000000000000004,668.8 L-1.9000000000000004,657.6999999999999 Z" fill="#fff" stroke="#fff" stroke-width="3.6" stroke-linejoin="round"/><path d="M6.5,652.6999999999999 L14.9,657.6999999999999 L14.9,668.8 Q14.9,670.8 12.9,670.8 L0.09999999999999964,670.8 Q-1.9000000000000004,670.8 -1.9000000000000004,668.8 L-1.9000000000000004,657.6999999999999 Z" fill="#fff" stroke="#089981" stroke-width="2.2" stroke-linejoin="round"/><text transform="translate(6.5,666.8999999999999) scale(0.74,1)" text-anchor="middle" font-size="12" fill="#089981" stroke="#089981" stroke-width="0.45" class="ic">E</text><circle cx="110.5" cy="662.3" r="10.7" fill="#fff"/><circle cx="110.5" cy="662.3" r="9.3" fill="#fff" stroke="#2962ff" stroke-width="2.2"/><text transform="translate(110.5,666.5999999999999) scale(0.74,1)" text-anchor="middle" font-size="12" fill="#2962ff" stroke="#2962ff" stroke-width="0.45" class="ic">D</text><path d="M96.5,652.6999999999999 L104.9,657.6999999999999 L104.9,668.8 Q104.9,670.8 102.9,670.8 L90.1,670.8 Q88.1,670.8 88.1,668.8 L88.1,657.6999999999999 Z" fill="#fff" stroke="#fff" stroke-width="3.6" stroke-linejoin="round"/><path d="M96.5,652.6999999999999 L104.9,657.6999999999999 L104.9,668.8 Q104.9,670.8 102.9,670.8 L90.1,670.8 Q88.1,670.8 88.1,668.8 L88.1,657.6999999999999 Z" fill="#fff" stroke="#089981" stroke-width="2.2" stroke-linejoin="round"/><text transform="translate(96.5,666.8999999999999) scale(0.74,1)" text-anchor="middle" font-size="12" fill="#089981" stroke="#089981" stroke-width="0.45" class="ic">E</text><circle cx="201.5" cy="662.3" r="10.7" fill="#fff"/><circle cx="201.5" cy="662.3" r="9.3" fill="#fff" stroke="#2962ff" stroke-width="2.2"/><text transform="translate(201.5,666.5999999999999) scale(0.74,1)" text-anchor="middle" font-size="12" fill="#2962ff" stroke="#2962ff" stroke-width="0.45" class="ic">D</text><path d="M187.5,652.6999999999999 L195.9,657.6999999999999 L195.9,668.8 Q195.9,670.8 193.9,670.8 L181.1,670.8 Q179.1,670.8 179.1,668.8 L179.1,657.6999999999999 Z" fill="#fff" stroke="#fff" stroke-width="3.6" stroke-linejoin="round"/><path d="M187.5,652.6999999999999 L195.9,657.6999999999999 L195.9,668.8 Q195.9,670.8 193.9,670.8 L181.1,670.8 Q179.1,670.8 179.1,668.8 L179.1,657.6999999999999 Z" fill="#fff" stroke="#089981" stroke-width="2.2" stroke-linejoin="round"/><text transform="translate(187.5,666.8999999999999) scale(0.74,1)" text-anchor="middle" font-size="12" fill="#089981" stroke="#089981" stroke-width="0.45" class="ic">E</text><circle cx="292.5" cy="662.3" r="10.7" fill="#fff"/><circle cx="292.5" cy="662.3" r="9.3" fill="#fff" stroke="#2962ff" stroke-width="2.2"/><text transform="translate(292.5,666.5999999999999) scale(0.74,1)" text-anchor="middle" font-size="12" fill="#2962ff" stroke="#2962ff" stroke-width="0.45" class="ic">D</text><path d="M278.5,652.6999999999999 L286.9,657.6999999999999 L286.9,668.8 Q286.9,670.8 284.9,670.8 L272.1,670.8 Q270.1,670.8 270.1,668.8 L270.1,657.6999999999999 Z" fill="#fff" stroke="#fff" stroke-width="3.6" stroke-linejoin="round"/><path d="M278.5,652.6999999999999 L286.9,657.6999999999999 L286.9,668.8 Q286.9,670.8 284.9,670.8 L272.1,670.8 Q270.1,670.8 270.1,668.8 L270.1,657.6999999999999 Z" fill="#fff" stroke="#089981" stroke-width="2.2" stroke-linejoin="round"/><text transform="translate(278.5,666.8999999999999) scale(0.74,1)" text-anchor="middle" font-size="12" fill="#089981" stroke="#089981" stroke-width="0.45" class="ic">E</text><circle cx="382.5" cy="662.3" r="10.7" fill="#fff"/><circle cx="382.5" cy="662.3" r="9.3" fill="#fff" stroke="#2962ff" stroke-width="2.2"/><text transform="translate(382.5,666.5999999999999) scale(0.74,1)" text-anchor="middle" font-size="12" fill="#2962ff" stroke="#2962ff" stroke-width="0.45" class="ic">D</text><path d="M368.5,652.6999999999999 L376.9,657.6999999999999 L376.9,668.8 Q376.9,670.8 374.9,670.8 L362.1,670.8 Q360.1,670.8 360.1,668.8 L360.1,657.6999999999999 Z" fill="#fff" stroke="#fff" stroke-width="3.6" stroke-linejoin="round"/><path d="M368.5,652.6999999999999 L376.9,657.6999999999999 L376.9,668.8 Q376.9,670.8 374.9,670.8 L362.1,670.8 Q360.1,670.8 360.1,668.8 L360.1,657.6999999999999 Z" fill="#fff" stroke="#089981" stroke-width="2.2" stroke-linejoin="round"/><text transform="translate(368.5,666.8999999999999) scale(0.74,1)" text-anchor="middle" font-size="12" fill="#089981" stroke="#089981" stroke-width="0.45" class="ic">E</text><path d="M459.5,652.6999999999999 L467.9,657.6999999999999 L467.9,668.8 Q467.9,670.8 465.9,670.8 L453.1,670.8 Q451.1,670.8 451.1,668.8 L451.1,657.6999999999999 Z" fill="#fff" stroke="#fff" stroke-width="3.6" stroke-linejoin="round"/><path d="M459.5,652.6999999999999 L467.9,657.6999999999999 L467.9,668.8 Q467.9,670.8 465.9,670.8 L453.1,670.8 Q451.1,670.8 451.1,668.8 L451.1,657.6999999999999 Z" fill="#fff" stroke="#089981" stroke-width="2.2" stroke-linejoin="round"/><text transform="translate(459.5,666.8999999999999) scale(0.74,1)" text-anchor="middle" font-size="12" fill="#089981" stroke="#089981" stroke-width="0.45" class="ic">E</text><circle cx="571.5" cy="662.3" r="10.7" fill="#fff"/><circle cx="571.5" cy="662.3" r="9.3" fill="#fff" stroke="#2962ff" stroke-width="2.2"/><text transform="translate(571.5,666.5999999999999) scale(0.74,1)" text-anchor="middle" font-size="12" fill="#2962ff" stroke="#2962ff" stroke-width="0.45" class="ic">D</text><path d="M557.5,652.6999999999999 L565.9,657.6999999999999 L565.9,668.8 Q565.9,670.8 563.9,670.8 L551.1,670.8 Q549.1,670.8 549.1,668.8 L549.1,657.6999999999999 Z" fill="#fff" stroke="#fff" stroke-width="3.6" stroke-linejoin="round"/><path d="M557.5,652.6999999999999 L565.9,657.6999999999999 L565.9,668.8 Q565.9,670.8 563.9,670.8 L551.1,670.8 Q549.1,670.8 549.1,668.8 L549.1,657.6999999999999 Z" fill="#fff" stroke="#089981" stroke-width="2.2" stroke-linejoin="round"/><text transform="translate(557.5,666.8999999999999) scale(0.74,1)" text-anchor="middle" font-size="12" fill="#089981" stroke="#089981" stroke-width="0.45" class="ic">E</text><circle cx="655.5" cy="662.3" r="10.7" fill="#fff"/><circle cx="655.5" cy="662.3" r="9.3" fill="#fff" stroke="#2962ff" stroke-width="2.2"/><text transform="translate(655.5,666.5999999999999) scale(0.74,1)" text-anchor="middle" font-size="12" fill="#2962ff" stroke="#2962ff" stroke-width="0.45" class="ic">D</text><path d="M641.5,652.6999999999999 L649.9,657.6999999999999 L649.9,668.8 Q649.9,670.8 647.9,670.8 L635.1,670.8 Q633.1,670.8 633.1,668.8 L633.1,657.6999999999999 Z" fill="#fff" stroke="#fff" stroke-width="3.6" stroke-linejoin="round"/><path d="M641.5,652.6999999999999 L649.9,657.6999999999999 L649.9,668.8 Q649.9,670.8 647.9,670.8 L635.1,670.8 Q633.1,670.8 633.1,668.8 L633.1,657.6999999999999 Z" fill="#fff" stroke="#089981" stroke-width="2.2" stroke-linejoin="round"/><text transform="translate(641.5,666.8999999999999) scale(0.74,1)" text-anchor="middle" font-size="12" fill="#089981" stroke="#089981" stroke-width="0.45" class="ic">E</text><circle cx="752.5" cy="662.3" r="10.7" fill="#fff"/><circle cx="752.5" cy="662.3" r="9.3" fill="#fff" stroke="#2962ff" stroke-width="2.2"/><text transform="translate(752.5,666.5999999999999) scale(0.74,1)" text-anchor="middle" font-size="12" fill="#2962ff" stroke="#2962ff" stroke-width="0.45" class="ic">D</text><path d="M738.5,652.6999999999999 L746.9,657.6999999999999 L746.9,668.8 Q746.9,670.8 744.9,670.8 L732.1,670.8 Q730.1,670.8 730.1,668.8 L730.1,657.6999999999999 Z" fill="#fff" stroke="#fff" stroke-width="3.6" stroke-linejoin="round"/><path d="M738.5,652.6999999999999 L746.9,657.6999999999999 L746.9,668.8 Q746.9,670.8 744.9,670.8 L732.1,670.8 Q730.1,670.8 730.1,668.8 L730.1,657.6999999999999 Z" fill="#fff" stroke="#089981" stroke-width="2.2" stroke-linejoin="round"/><text transform="translate(738.5,666.8999999999999) scale(0.74,1)" text-anchor="middle" font-size="12" fill="#089981" stroke="#089981" stroke-width="0.45" class="ic">E</text><circle cx="843.5" cy="662.3" r="10.7" fill="#fff"/><circle cx="843.5" cy="662.3" r="9.3" fill="#fff" stroke="#2962ff" stroke-width="2.2"/><text transform="translate(843.5,666.5999999999999) scale(0.74,1)" text-anchor="middle" font-size="12" fill="#2962ff" stroke="#2962ff" stroke-width="0.45" class="ic">D</text><path d="M829.5,652.6999999999999 L837.9,657.6999999999999 L837.9,668.8 Q837.9,670.8 835.9,670.8 L823.1,670.8 Q821.1,670.8 821.1,668.8 L821.1,657.6999999999999 Z" fill="#fff" stroke="#fff" stroke-width="3.6" stroke-linejoin="round"/><path d="M829.5,652.6999999999999 L837.9,657.6999999999999 L837.9,668.8 Q837.9,670.8 835.9,670.8 L823.1,670.8 Q821.1,670.8 821.1,668.8 L821.1,657.6999999999999 Z" fill="#fff" stroke="#089981" stroke-width="2.2" stroke-linejoin="round"/><text transform="translate(829.5,666.8999999999999) scale(0.74,1)" text-anchor="middle" font-size="12" fill="#089981" stroke="#089981" stroke-width="0.45" class="ic">E</text><circle cx="934.5" cy="662.3" r="10.7" fill="#fff"/><circle cx="934.5" cy="662.3" r="9.3" fill="#fff" stroke="#2962ff" stroke-width="2.2"/><text transform="translate(934.5,666.5999999999999) scale(0.74,1)" text-anchor="middle" font-size="12" fill="#2962ff" stroke="#2962ff" stroke-width="0.45" class="ic">D</text><path d="M920.5,652.6999999999999 L928.9,657.6999999999999 L928.9,668.8 Q928.9,670.8 926.9,670.8 L914.1,670.8 Q912.1,670.8 912.1,668.8 L912.1,657.6999999999999 Z" fill="#fff" stroke="#fff" stroke-width="3.6" stroke-linejoin="round"/><path d="M920.5,652.6999999999999 L928.9,657.6999999999999 L928.9,668.8 Q928.9,670.8 926.9,670.8 L914.1,670.8 Q912.1,670.8 912.1,668.8 L912.1,657.6999999999999 Z" fill="#fff" stroke="#089981" stroke-width="2.2" stroke-linejoin="round"/><text transform="translate(920.5,666.8999999999999) scale(0.74,1)" text-anchor="middle" font-size="12" fill="#089981" stroke="#089981" stroke-width="0.45" class="ic">E</text><circle cx="1018.5" cy="662.3" r="10.7" fill="#fff"/><circle cx="1018.5" cy="662.3" r="9.3" fill="#fff" stroke="#2962ff" stroke-width="2.2"/><text transform="translate(1018.5,666.5999999999999) scale(0.74,1)" text-anchor="middle" font-size="12" fill="#2962ff" stroke="#2962ff" stroke-width="0.45" class="ic">D</text><path d="M1004.5,652.6999999999999 L1012.9,657.6999999999999 L1012.9,668.8 Q1012.9,670.8 1010.9,670.8 L998.1,670.8 Q996.1,670.8 996.1,668.8 L996.1,657.6999999999999 Z" fill="#fff" stroke="#fff" stroke-width="3.6" stroke-linejoin="round"/><path d="M1004.5,652.6999999999999 L1012.9,657.6999999999999 L1012.9,668.8 Q1012.9,670.8 1010.9,670.8 L998.1,670.8 Q996.1,670.8 996.1,668.8 L996.1,657.6999999999999 Z" fill="#fff" stroke="#089981" stroke-width="2.2" stroke-linejoin="round"/><text transform="translate(1004.5,666.8999999999999) scale(0.74,1)" text-anchor="middle" font-size="12" fill="#089981" stroke="#089981" stroke-width="0.45" class="ic">E</text><circle cx="480.5" cy="637.5" r="10.7" fill="#fff"/><circle cx="480.5" cy="637.5" r="9.3" fill="#fff" stroke="#2962ff" stroke-width="2.2"/><text transform="translate(480.5,641.8) scale(0.74,1)" text-anchor="middle" font-size="12" fill="#2962ff" stroke="#2962ff" stroke-width="0.45" class="ic">D</text><circle cx="480.5" cy="662.6" r="10.7" fill="#fff"/><circle cx="480.5" cy="662.6" r="9.3" fill="#fff" stroke="#ff9800" stroke-width="2.2"/><text transform="translate(480.5,666.9) scale(0.74,1)" text-anchor="middle" font-size="12" fill="#ff9800" stroke="#ff9800" stroke-width="0.45" class="ic">S</text><rect x="1092.9" y="653.8" width="17.2" height="17.1" rx="2.5" fill="#fff" stroke="#e040fb" stroke-width="2"/><text transform="translate(1101.6,666.9) scale(0.74,1)" text-anchor="middle" font-size="12" fill="#e040fb" stroke="#e040fb" stroke-width="0.1" class="ic">E</text>
<rect x="0" y="675" width="1287" height="1" fill="#e0e3eb" shape-rendering="crispEdges"/>
<rect x="1233" y="0" width="1" height="871" fill="#4a4a4a" shape-rendering="crispEdges"/>
<rect x="0" y="843" width="1287" height="1" fill="#4a4a4a" shape-rendering="crispEdges"/></svg>
<div class="title">NVIDIA Corporation · 1<span class="tar">عوبسأ</span> · NASDAQ</div>
<div class="pl" style="top:30.5px">260.00</div>
<div class="pl" style="top:69.9px">240.00</div>
<div class="pl" style="top:109.2px">220.00</div>
<div class="pl" style="top:148.6px">200.00</div>
<div class="pl" style="top:227.3px">160.00</div>
<div class="pl" style="top:266.7px">140.00</div>
<div class="pl" style="top:306.1px">120.00</div>
<div class="pl" style="top:345.4px">100.00</div>
<div class="pl" style="top:384.8px">80.00</div>
<div class="pl" style="top:424.2px">60.00</div>
<div class="pl" style="top:463.6px">40.00</div>
<div class="pl" style="top:502.9px">20.00</div>
<div class="pl" style="top:542.3px">0.0000</div>
<div class="pl" style="top:581.7px">−20.00</div>
<div class="pl" style="top:621.0px">−40.00</div>
<div class="pl" style="top:660.4px">−60.00</div>
<div class="pl" style="top:702.6px">80.00</div>
<div class="pl" style="top:742.6px">60.00</div>
<div class="pl" style="top:782.6px">40.00</div>
<div class="pl" style="top:822.6px">20.00</div>
<div class="usdcover"></div><div class="usd"><span>USD</span></div>
<div class="plabel"><div class="p1">189.11</div><div class="p2">1d 20h</div></div>
<div class="tl" style="left:85.3px">يوليو</div>
<div class="tl" style="left:148.8px">سبتمبر</div>
<div class="tl" style="left:212.0px">نوفمبر</div>
<div class="tl yr" style="left:270.0px">2024</div>
<div class="tl" style="left:448.3px">يوليو</div>
<div class="tl" style="left:512.2px">سبتمبر</div>
<div class="tl" style="left:575.3px">نوفمبر</div>
<div class="tl yr" style="left:639.6px">2025</div>
<div class="tl" style="left:818.3px">يوليو</div>
<div class="tl" style="left:875.0px">سبتمبر</div>
<div class="tl" style="left:938.0px">نوفمبر</div>
<div class="tl yr" style="left:1003.0px">2026</div>
<div class="tlclip"><div class="tl" style="left:1181px">يوليو</div></div>
<div class="dl" style="left:6.0px"><span>الاثنين 17 أبريل '23</span></div>
<div class="dl" style="left:368.8px"><span>الاثنين 15 أبريل '24</span></div>
<div class="dl" style="left:731.8px"><span>الاثنين 14 أبريل '25</span></div>
<div class="dl" style="left:1095.3px"><span>الاثنين 13 أبريل '26</span></div></body></html>
